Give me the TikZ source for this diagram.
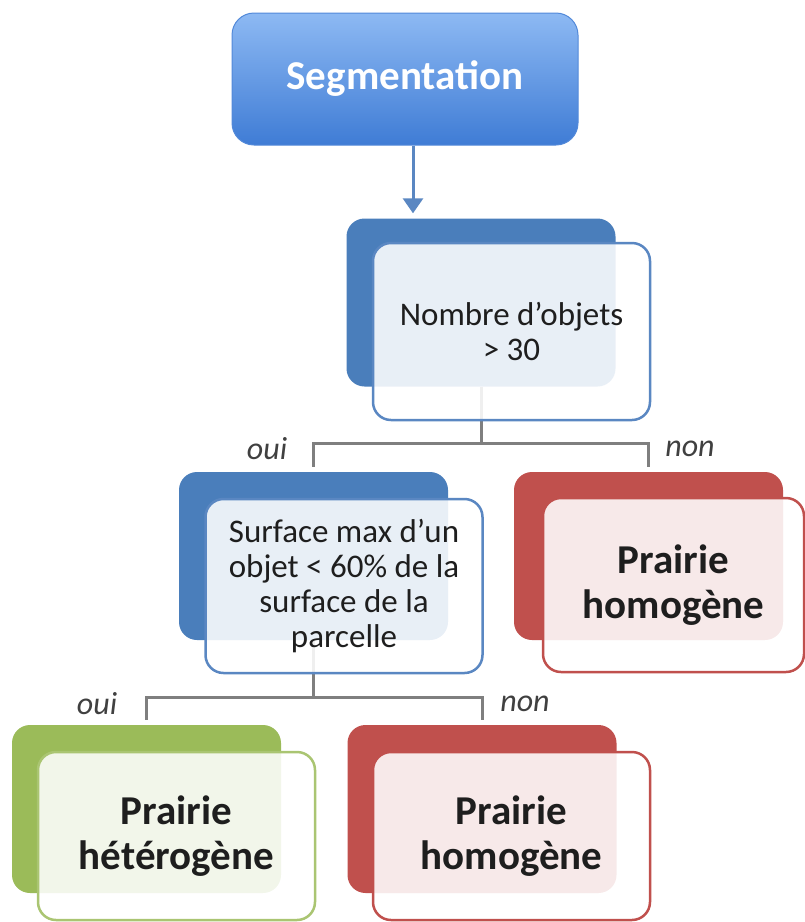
\documentclass[tikz,border=0pt]{standalone}
\usepackage{fontspec}
\setmainfont{Carlito}
\usepackage{xcolor}
\usetikzlibrary{arrows.meta, positioning}
\definecolor{segtop}{HTML}{8DB9F3}
\definecolor{segbot}{HTML}{3F7CD5}
\definecolor{bluedark}{HTML}{4A7EBB}
\definecolor{blueline}{HTML}{5A87C2}
\definecolor{reddark}{HTML}{C0504D}
\definecolor{greendark}{HTML}{9BBB59}
\definecolor{linkgray}{HTML}{7F7F7F}
\definecolor{inkdark}{HTML}{1E1E1E}

\begin{document}
\begin{tikzpicture}[x=1pt, y=-1pt,
    backbox/.style={rounded corners=18pt, minimum width=269pt, minimum height=168pt,
      inner sep=0pt, fill=#1},
    frontbox/.style={rounded corners=18pt, minimum width=277pt, minimum height=174pt,
      inner sep=0pt, draw=#1, line width=2.5pt, fill=white, fill opacity=0.88,
      text opacity=1, align=center, text=inkdark},
    qtext/.style={font=\fontsize{33}{35}\selectfont},
    leaftext/.style={font=\fontsize{41}{45}\selectfont\bfseries},
    link/.style={draw=linkgray, line width=3pt, shorten >=5pt},
    arr/.style={-{Triangle[length=15pt, width=20pt]}, draw=blueline, line width=3pt, shorten >=5pt},
    answer/.style={font=\fontsize{32}{36}\selectfont\itshape, text=inkdark!85},
  ]
  \useasboundingbox (0,0) rectangle (805,922);

  % start box
  \node[rounded corners=22pt, minimum width=346pt, minimum height=132pt,
        top color=segtop, bottom color=segbot, draw=segbot!90!white, line width=1pt,
        text=white, font=\fontsize{41}{46}\selectfont\bfseries] (seg) at (405,79) {Segmentation};

  % back boxes
  \node[backbox=bluedark]  (q1b) at (481,302.5) {};
  \node[backbox=bluedark]  (q2b) at (313.5,556) {};
  \node[backbox=reddark]   (l1b) at (648.5,556) {};
  \node[backbox=greendark] (l2b) at (146.5,809) {};
  \node[backbox=reddark]   (l3b) at (482,809) {};

  % connectors
  \draw[arr] ([xshift=8pt]seg.south) -- ([xshift=8pt]seg.south |- q1b.north);
  \draw[link] (q1b.south) -- ++(0,57) -| (q2b.north);
  \draw[link] (q1b.south) -- ++(0,57) -| (l1b.north);
  \draw[link] (q2b.south) -- ++(0,57) -| (l2b.north);
  \draw[link] (q2b.south) -- ++(0,57) -| (l3b.north);

  % front boxes
  \node[frontbox=blueline, minimum height=177pt, qtext] (q1) at (511.5,331.5) {Nombre d'objets\\ > 30};
  \node[frontbox=blueline, qtext] (q2) at (344,586) {Surface max d'un\\ objet < 60\% de la\\ surface de la\\ parcelle};
  \node[frontbox=reddark, minimum width=261pt, leaftext] (l1) at (673.5,585) {Prairie\\ homogène};
  \node[frontbox=greendark!85!white, minimum height=168pt, leaftext] (l2) at (176.5,836) {Prairie\\ hétérogène};
  \node[frontbox=reddark, minimum height=168pt, leaftext] (l3) at (511.5,836) {Prairie\\ homogène};

  % answers
  \node[answer] (a1) at (267,449) {oui};
  \node[answer] (a2) at (690,449) {non};
  \node[answer] (a3) at (97,704) {oui};
  \node[answer] (a4) at (525,704) {non};
\end{tikzpicture}
\end{document}
